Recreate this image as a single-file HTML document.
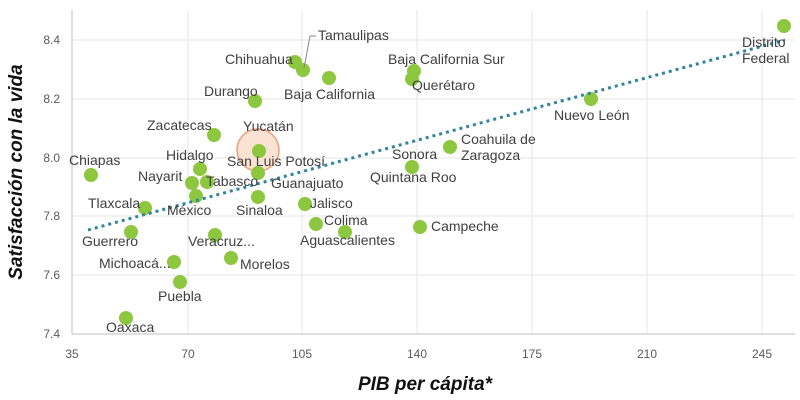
<!DOCTYPE html>
<html><head><meta charset="utf-8"><style>
html,body{margin:0;padding:0;background:#fff;}
svg{display:block;font-family:"Liberation Sans",sans-serif;}
.l{font-size:14px;fill:#404040;}
.t{font-size:12px;fill:#595959;}
</style></head><body>
<svg width="800" height="400" viewBox="0 0 800 400">
<g stroke="#e6e6e6" stroke-width="1">
<line x1="72" y1="40" x2="795" y2="40"/><line x1="72" y1="99" x2="795" y2="99"/>
<line x1="72" y1="158" x2="795" y2="158"/><line x1="72" y1="216" x2="795" y2="216"/>
<line x1="72" y1="275" x2="795" y2="275"/>
<line x1="188" y1="10" x2="188" y2="333"/><line x1="302" y1="10" x2="302" y2="333"/>
<line x1="417" y1="10" x2="417" y2="333"/><line x1="532" y1="10" x2="532" y2="333"/>
<line x1="647" y1="10" x2="647" y2="333"/><line x1="762" y1="10" x2="762" y2="333"/>
</g>
<line x1="72" y1="10" x2="72" y2="334" stroke="#bfbfbf"/>
<line x1="72" y1="334" x2="795" y2="334" stroke="#bfbfbf"/>
<g class="t" text-anchor="end">
<text x="60" y="44">8.4</text><text x="60" y="103">8.2</text><text x="60" y="162">8.0</text>
<text x="60" y="220">7.8</text><text x="60" y="279">7.6</text><text x="60" y="338">7.4</text>
</g>
<g class="t" text-anchor="middle">
<text x="72" y="358">35</text><text x="188" y="358">70</text><text x="302" y="358">105</text>
<text x="417" y="358">140</text><text x="532" y="358">175</text><text x="647" y="358">210</text><text x="762" y="358">245</text>
</g>
<text x="425" y="390" text-anchor="middle" font-size="19" font-weight="bold" font-style="italic" fill="#111">PIB per cápita*</text>
<text transform="translate(22,172) rotate(-90)" text-anchor="middle" font-size="19" font-weight="bold" font-style="italic" fill="#111">Satisfacción con la vida</text>
<circle cx="258" cy="150" r="21" fill="#fbe3d4" stroke="#e8a07a" stroke-width="1.5"/>
<g fill="#8dc63f">
<circle cx="295" cy="62" r="7"/><circle cx="303" cy="70" r="7"/><circle cx="329" cy="78" r="7"/>
<circle cx="414" cy="71" r="7"/><circle cx="412" cy="79" r="7"/><circle cx="255" cy="101" r="7"/>
<circle cx="214" cy="135" r="7"/><circle cx="259" cy="151" r="7"/><circle cx="91" cy="175" r="7"/>
<circle cx="200" cy="169" r="7"/><circle cx="192" cy="183" r="7"/><circle cx="207" cy="182" r="7"/>
<circle cx="196" cy="196" r="7"/><circle cx="258" cy="173" r="7"/><circle cx="258" cy="197" r="7"/>
<circle cx="145" cy="208" r="7"/><circle cx="131" cy="232" r="7"/><circle cx="215" cy="235" r="7"/>
<circle cx="174" cy="262" r="7"/><circle cx="180" cy="282" r="7"/><circle cx="231" cy="258" r="7"/>
<circle cx="126" cy="318" r="7"/><circle cx="305" cy="204" r="7"/><circle cx="316" cy="224" r="7"/>
<circle cx="345" cy="232" r="7"/><circle cx="412" cy="167" r="7"/><circle cx="450" cy="147" r="7"/>
<circle cx="420" cy="227" r="7"/><circle cx="591" cy="99" r="7"/><circle cx="784" cy="26" r="7"/>
</g>
<line x1="88" y1="230" x2="785" y2="40" stroke="#31849b" stroke-width="3" stroke-dasharray="3,4"/>
<path d="M304 68 L310 36 L316 36" stroke="#888" fill="none"/>
<g class="l">
<text x="318" y="40">Tamaulipas</text>
<text x="225" y="64">Chihuahua</text>
<text x="284" y="99">Baja California</text>
<text x="388" y="64">Baja California Sur</text>
<text x="412" y="90">Querétaro</text>
<text x="204" y="96">Durango</text>
<text x="147" y="130">Zacatecas</text>
<text x="243" y="131">Yucatán</text>
<text x="69" y="165">Chiapas</text>
<text x="166" y="160">Hidalgo</text>
<text x="227" y="166">San Luis Potosí</text>
<text x="138" y="181">Nayarit</text>
<text x="206" y="186">Tabasco</text>
<text x="271" y="188">Guanajuato</text>
<text x="88" y="208">Tlaxcala</text>
<text x="167" y="215">México</text>
<text x="236" y="215">Sinaloa</text>
<text x="310" y="208">Jalisco</text>
<text x="324" y="225">Colima</text>
<text x="300" y="245">Aguascalientes</text>
<text x="82" y="246">Guerrero</text>
<text x="188" y="246">Veracruz...</text>
<text x="99" y="268">Michoacá...</text>
<text x="240" y="269">Morelos</text>
<text x="158" y="301">Puebla</text>
<text x="106" y="332">Oaxaca</text>
<text x="392" y="159">Sonora</text>
<text x="370" y="182">Quintana Roo</text>
<text x="461" y="144">Coahuila de</text>
<text x="461" y="160">Zaragoza</text>
<text x="431" y="231">Campeche</text>
<text x="554" y="120">Nuevo León</text>
<text x="742" y="47">Distrito</text>
<text x="742" y="63">Federal</text>
</g>
</svg>
</body></html>
